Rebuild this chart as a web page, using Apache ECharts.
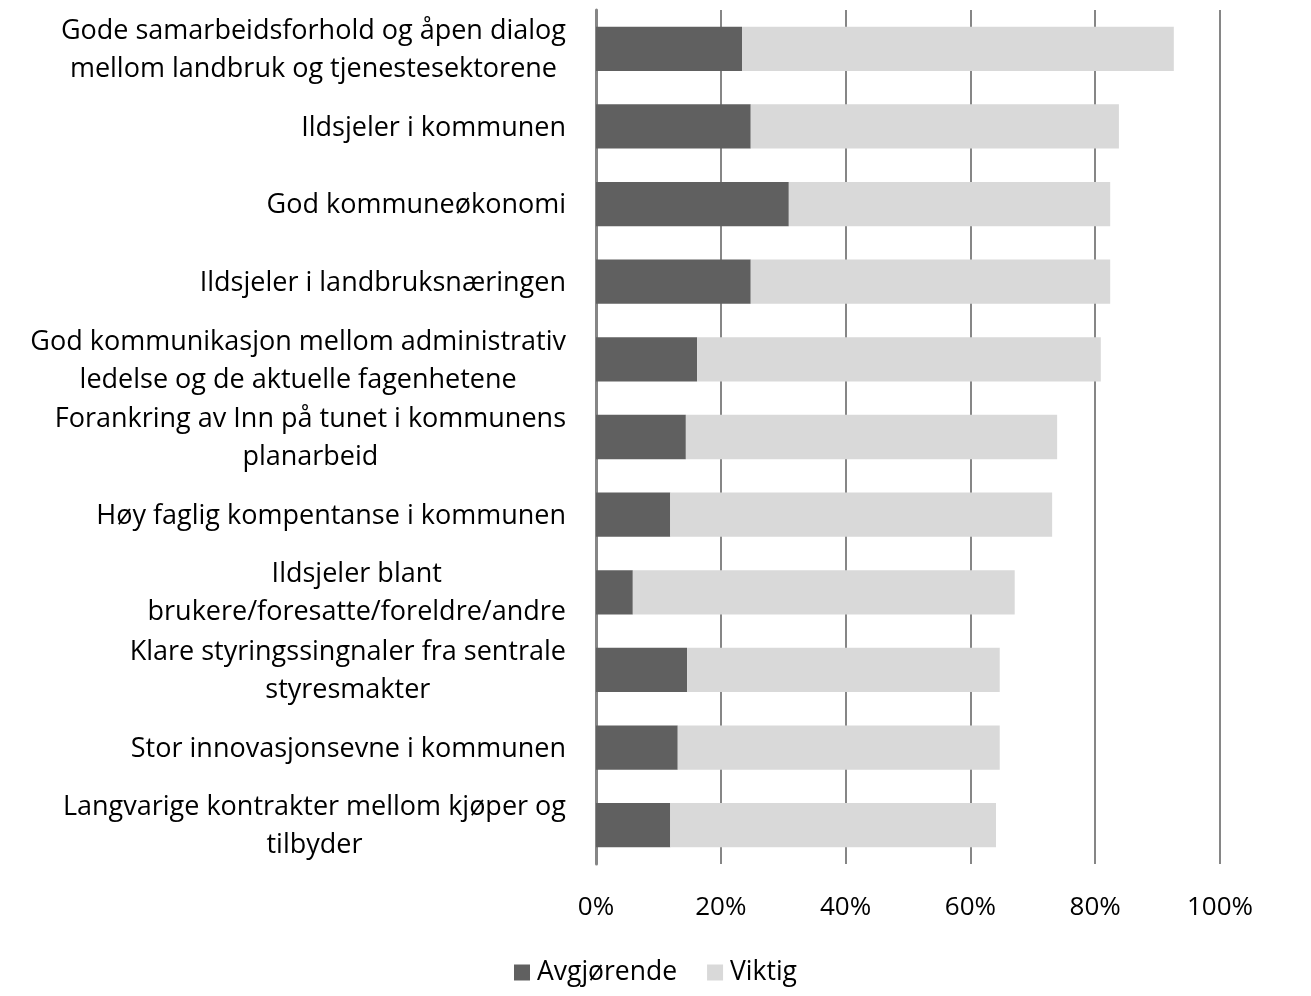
<!DOCTYPE html>
<html><head><meta charset="utf-8">
<script src="https://cdn.jsdelivr.net/npm/echarts@6/dist/echarts.min.js"></script>
<style>html,body{margin:0;padding:0;background:#fff}#c{width:1311px;height:996px}</style>
</head><body><div id="c"></div>
<script>
const categories = [
  "Gode samarbeidsforhold og åpen dialog\nmellom landbruk og tjenestesektorene",
  "Ildsjeler i kommunen",
  "God kommuneøkonomi",
  "Ildsjeler i landbruksnæringen",
  "God kommunikasjon mellom administrativ\nledelse og de aktuelle fagenhetene",
  "Forankring av Inn på tunet i kommunens\nplanarbeid",
  "Høy faglig kompentanse i kommunen",
  "Ildsjeler blant\nbrukere/foresatte/foreldre/andre",
  "Klare styringssingnaler fra sentrale\nstyresmakter",
  "Stor innovasjonsevne i kommunen",
  "Langvarige kontrakter mellom kjøper og\ntilbyder"
];
const avgjorende = [23.4, 24.8, 30.9, 24.8, 16.2, 14.4, 11.9, 5.9, 14.6, 13.1, 11.9];
const viktig = [69.2, 59.0, 51.5, 57.6, 64.7, 59.5, 61.2, 61.2, 50.1, 51.6, 52.2];
const seriesNames = ["Avgjørende", "Viktig"];

const FONT = "Open Sans";
const chart = echarts.init(document.getElementById('c'));
chart.setOption({
  animation: false,
  textStyle: {fontFamily: FONT},
  grid: {left: 596, right: 91, top: 10, bottom: 132},
  xAxis: {
    type: 'value', min: 0, max: 100, interval: 20,
    axisLabel: {formatter: '{value}%', fontSize: 26, color: '#000', margin: 31, fontFamily: FONT},
    splitLine: {show: true, lineStyle: {color: '#868686', width: 2}},
    axisLine: {show: false}, axisTick: {show: false}
  },
  yAxis: {
    type: 'category', data: categories, inverse: true,
    axisLabel: {
      margin: 30, align: 'right',
      formatter: v => v.split('\n').map(l => '{a|' + l + '}').join('\n'),
      rich: {a: {fontSize: 27, color: '#000', lineHeight: 38, fontFamily: FONT, align: 'center', padding: [3, 0, 0, 0]}}
    },
    axisLine: {show: true, lineStyle: {color: '#868686', width: 3}},
    axisTick: {show: false}
  },
  legend: {
    bottom: 5, left: 'center', itemWidth: 16, itemHeight: 16, itemGap: 30,
    textStyle: {fontSize: 26.5, color: '#000', fontFamily: FONT, padding: [0, 0, 0, 2]},
    icon: 'rect',
    data: seriesNames
  },
  series: [
    {name: seriesNames[0], type: 'bar', stack: 's', data: avgjorende, barCategoryGap: '43%',
     itemStyle: {color: '#606060'}},
    {name: seriesNames[1], type: 'bar', stack: 's', data: viktig, barCategoryGap: '43%',
     itemStyle: {color: '#d9d9d9'}}
  ]
});
</script></body></html>
